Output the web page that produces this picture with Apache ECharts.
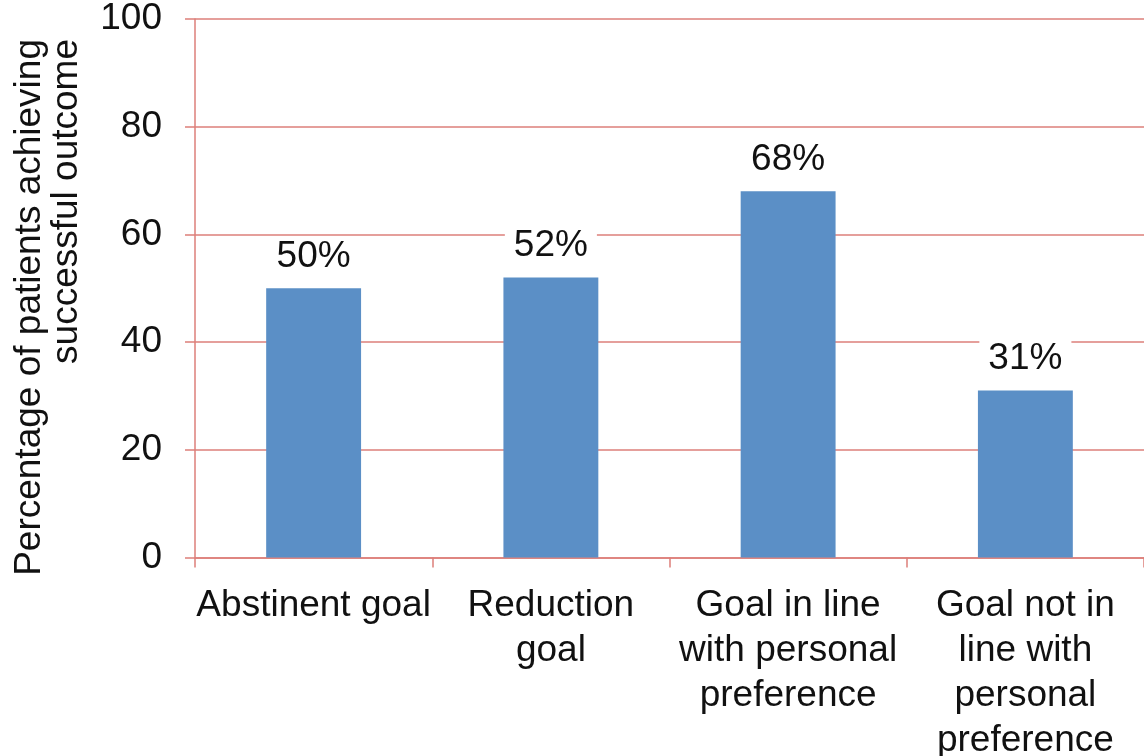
<!DOCTYPE html>
<html>
<head>
<meta charset="utf-8">
<script src="https://cdn.jsdelivr.net/npm/echarts@6/dist/echarts.min.js"></script>
<style>
  html, body { margin: 0; padding: 0; background: #fff; overflow: hidden; }
  #chart { width: 1144px; height: 756px; }
</style>
</head>
<body>
<div id="chart"></div>
<script>
// Goal categories (line breaks as set in the axis labels)
const categories = [
  'Abstinent goal',
  'Reduction\ngoal',
  'Goal in line\nwith personal\npreference',
  'Goal not in\nline with\npersonal\npreference'
];
// Share of patients with a successful outcome, in percent
const successRates = [50, 52, 68, 31];
// Value axis
const yMin = 0;
const yMax = 100;
const yStep = 20;
const yTitleLines = ['Percentage of patients achieving', 'successful outcome'];

const ruleColor = '#dd7f7a';
const textFont = '"Liberation Sans", Arial, sans-serif';

const chart = echarts.init(document.getElementById('chart'), null, { renderer: 'canvas' });

chart.setOption({
  backgroundColor: '#ffffff',
  animation: false,
  grid: {
    left: 195, right: 0, top: 19, bottom: 198.5,
    containLabel: false,
    outerBoundsMode: 'none'
  },
  xAxis: {
    type: 'category',
    data: categories,
    axisLine: { show: true, lineStyle: { color: ruleColor, width: 1.5 } },
    axisTick: { show: true, length: 10, alignWithLabel: false, lineStyle: { color: ruleColor, width: 1.5 } },
    axisLabel: {
      interval: 0,
      margin: 26,
      color: '#111',
      fontFamily: textFont,
      fontSize: 37,
      lineHeight: 45,
      align: 'center'
    }
  },
  yAxis: {
    type: 'value',
    min: yMin,
    max: yMax,
    interval: yStep,
    axisLine: { show: true, lineStyle: { color: ruleColor, width: 1.5 } },
    axisTick: { show: true, length: 10, lineStyle: { color: ruleColor, width: 1.5 } },
    splitLine: { show: true, lineStyle: { color: ruleColor, width: 1.5 } },
    axisLabel: {
      margin: 33,
      color: '#111',
      fontFamily: textFont,
      fontSize: 37
    }
  },
  graphic: [{
    type: 'text',
    x: 48,
    y: 39,
    rotation: Math.PI / 2,
    style: {
      text: yTitleLines.join('\n'),
      fill: '#111',
      font: '37px ' + textFont,
      lineHeight: 37,
      align: 'right',
      verticalAlign: 'middle'
    }
  }],
  series: [{
    type: 'bar',
    data: successRates,
    barWidth: '40%',
    itemStyle: { color: '#5b8fc6' },
    label: {
      show: true,
      position: 'top',
      distance: 11,
      formatter: '{c}%',
      color: '#111',
      fontFamily: textFont,
      fontSize: 37,
      backgroundColor: '#ffffff',
      padding: [2, 9]
    }
  }]
});
</script>
</body>
</html>
